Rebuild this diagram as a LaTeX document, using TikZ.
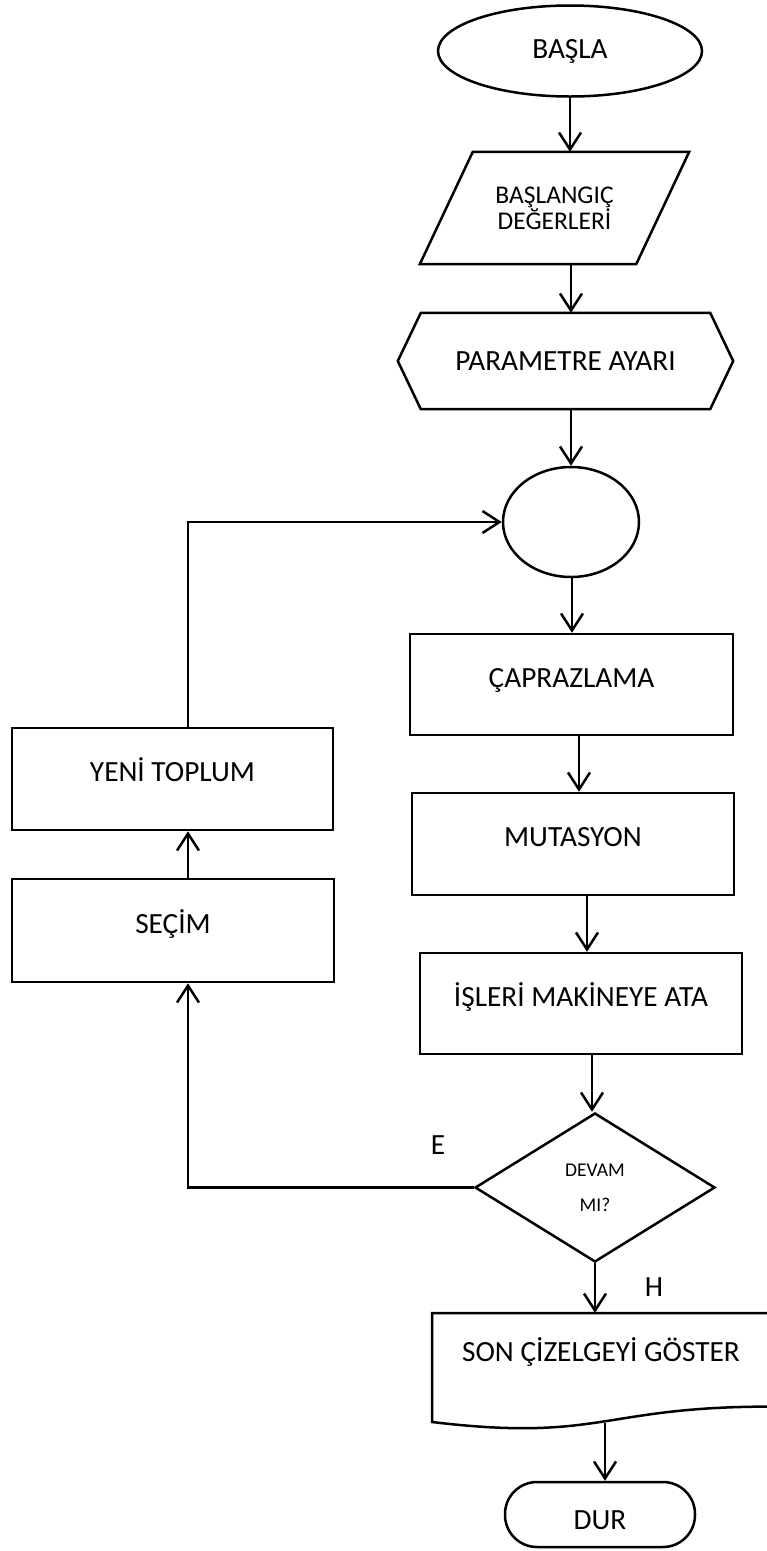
\documentclass[tikz,border=0pt]{standalone}
\usepackage{fontspec}
\setmainfont{Carlito}
\usetikzlibrary{shapes.geometric,arrows.meta}
\begin{document}
\begin{tikzpicture}[x=1pt,y=-1pt,
  line/.style={line width=2.5pt, draw=black},
  arr/.style={line width=2.5pt, draw=black, -{Straight Barb[length=17pt,width=22pt]}},
  big/.style={font=\fontsize{29.3}{34}\selectfont},
  box/.style={line, big, rectangle, inner sep=0pt, text height=19pt, text depth=14pt},
  lbl/.style={big, inner sep=0pt}
]
\useasboundingbox (0,0) rectangle (767,1551);

% x positions of the vertical connectors
\coordinate (c570) at (570,0);
\coordinate (c571) at (571,0);
\coordinate (c572) at (572,0);
\coordinate (c579) at (579,0);
\coordinate (c587) at (587,0);
\coordinate (c592) at (592,0);
\coordinate (c595) at (595,0);
\coordinate (c605) at (605,0);
\coordinate (c188) at (188,0);

% nodes
\node[line, big, ellipse, minimum width=264pt, minimum height=91pt, inner sep=0pt] (start) at (570,51) {BAŞLA};

\node[font=\fontsize{25.5}{24}\selectfont, align=center, minimum width=269pt, minimum height=112pt, inner sep=0pt] (init) at (554.5,208) {BAŞLANGIÇ\\DEĞERLERİ};
\draw[line] (init.south west) -- ([xshift=-53pt]init.south east) -- (init.north east) -- ([xshift=53pt]init.north west) -- cycle;

\node[big, minimum width=335pt, minimum height=96pt, inner sep=0pt] (param) at (565.5,361) {PARAMETRE AYARI};
\draw[line] (param.west) -- ([xshift=23pt]param.north west) -- ([xshift=-23pt]param.north east) -- (param.east) -- ([xshift=-23pt]param.south east) -- ([xshift=23pt]param.south west) -- cycle;

\node[line, ellipse, minimum width=136pt, minimum height=110pt, inner sep=0pt] (circ) at (571,522) {};

\node[box, minimum width=323pt, minimum height=101pt] (capr) at (571.5,684.5) {ÇAPRAZLAMA};
\node[box, minimum width=322pt, minimum height=102pt] (mut) at (573,844) {MUTASYON};
\node[box, minimum width=322pt, minimum height=101pt] (isl) at (581,1003.5) {İŞLERİ MAKİNEYE ATA};
\node[box, minimum width=321pt, minimum height=102pt] (yeni) at (172.5,779) {YENİ TOPLUM};
\node[box, minimum width=322pt, minimum height=103pt] (sec) at (173,930.5) {SEÇİM};

\node[line, diamond, minimum width=240pt, minimum height=149pt, inner sep=0pt, align=center, font=\fontsize{19.5}{35}\selectfont] (dec) at (595,1187.5) {DEVAM\\MI?};

\node[lbl] (elab) at (438,1145) {E};
\node[lbl] (hlab) at (654,1287) {H};

\node[big, minimum width=338pt, minimum height=110pt, inner sep=0pt, text height=19pt, text depth=33pt] (doc) at (601,1368) {SON ÇİZELGEYİ GÖSTER};
\draw[line] (432,1313) -- (770,1313) -- (770,1406.6) .. controls (601,1406.6) and (601,1442.2) .. (432,1422) -- cycle;

\node[line, big, rectangle, rounded corners=32pt, minimum width=190pt, minimum height=65pt, inner sep=0pt, text height=30pt, text depth=0pt] (stop) at (600,1514.5) {DUR};

% connectors
\draw[arr] (start.south -| c570) -- (init.north -| c570);
\draw[arr] (init.south -| c571) -- (param.north -| c571);
\draw[arr] (param.south -| c571) -- (circ.north -| c571);
\draw[arr] (circ.south -| c572) -- (capr.north -| c572);
\draw[arr] (capr.south -| c579) -- (mut.north -| c579);
\draw[arr] (mut.south -| c587) -- (isl.north -| c587);
\draw[arr] (isl.south -| c592) -- (dec.north -| c592);
\draw[arr] (dec.south -| c595) -- (doc.north -| c595);
\draw[arr] (doc.south -| c605) -- (stop.north -| c605);

\draw[arr] (dec.west) -| (sec.south -| c188);
\draw[arr] (sec.north -| c188) -- (yeni.south -| c188);
\draw[arr] (yeni.north -| c188) |- (circ.west);
\end{tikzpicture}
\end{document}
